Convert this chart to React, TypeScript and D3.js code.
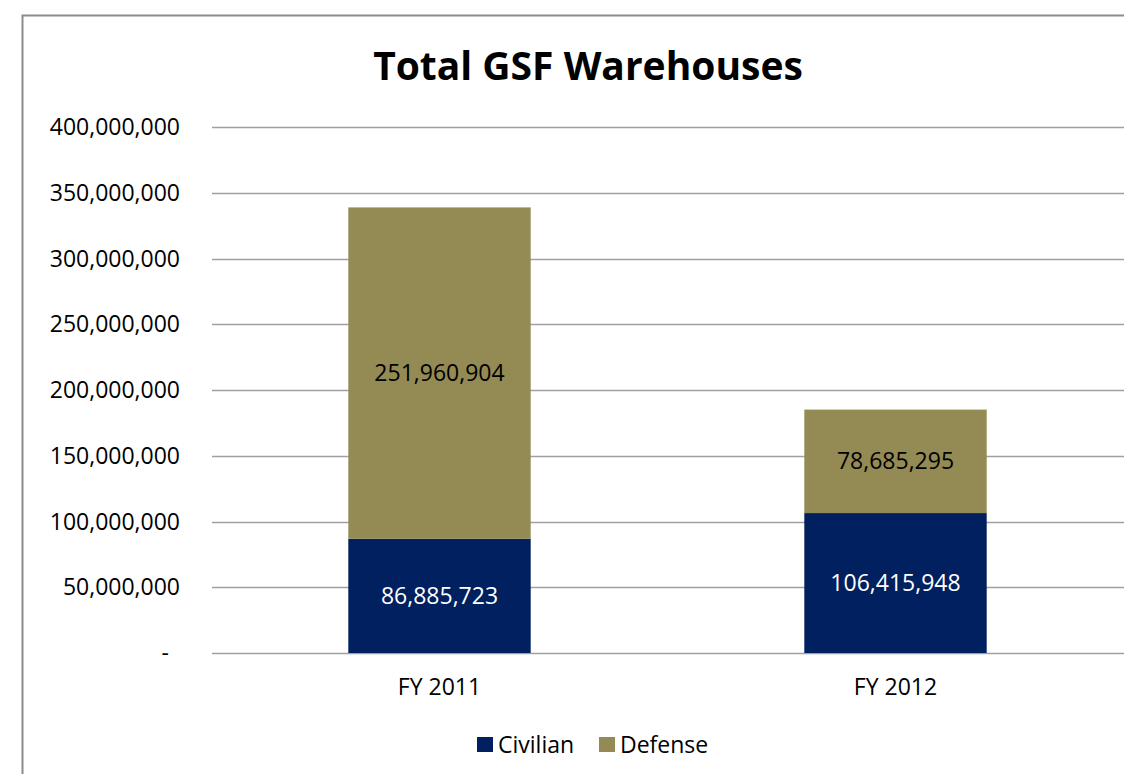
import React from "react";
import * as d3 from "d3";

const categories = ["FY 2011", "FY 2012"];
const civilian = [86885723, 106415948];
const defense = [251960904, 78685295];
const yTicks = [0, 50000000, 100000000, 150000000, 200000000, 250000000, 300000000, 350000000, 400000000];
const seriesNames = ["Civilian", "Defense"];
const seriesColors = ["#002060", "#948A54"];

const W = 1124;
const H = 774;
const FONT = "'Open Sans', 'Liberation Sans', sans-serif";

export default function App() {
  const x = d3.scaleBand<string>().domain(categories).range([211.5, 1123.5]).paddingInner(0.6).paddingOuter(0.3);
  const y = d3.scaleLinear().domain([0, 400000000]).range([653, 127]);
  const fmt = d3.format(",");
  const stackData = categories.map((c, i) => ({ cat: c, Civilian: civilian[i], Defense: defense[i] }));
  const stack = d3.stack<any>().keys(seriesNames)(stackData);

  return (
    <svg width={W} height={H} style={{ position: "absolute", left: 0, top: 0, background: "#fff" }} fontFamily={FONT}>
      <rect x={22.5} y={15.5} width={1200} height={800} fill="#fff" stroke="#8c8c8c" strokeWidth={2} />
      <text x={588} y={80} textAnchor="middle" fontSize={39} fontWeight="bold" fill="#000">Total GSF Warehouses</text>
      {yTicks.map((t) => (
        <g key={t}>
          <line x1={212} x2={1124} y1={Math.round(y(t)) + 0.5} y2={Math.round(y(t)) + 0.5} stroke="#a0a0a0" strokeWidth={1.5} />
          <text x={t === 0 ? 169 : 180} y={y(t)} dy="0.35em" textAnchor="end" fontSize={23} fill="#000">
            {t === 0 ? "-" : fmt(t)}
          </text>
        </g>
      ))}
      {stack.map((s, si) => (
        <g key={seriesNames[si]}>
          {s.map((d, i) => (
            <g key={i}>
              <rect x={x(categories[i])} width={x.bandwidth()} y={y(d[1])} height={y(d[0]) - y(d[1])} fill={seriesColors[si]} />
              <text x={(x(categories[i]) as number) + x.bandwidth() / 2} y={(y(d[0]) + y(d[1])) / 2} dy="0.35em" textAnchor="middle" fontSize={23} fill={si === 0 ? "#fff" : "#000"}>
                {fmt(d[1] - d[0])}
              </text>
            </g>
          ))}
        </g>
      ))}
      {categories.map((c) => (
        <text key={c} x={(x(c) as number) + x.bandwidth() / 2} y={695} textAnchor="middle" fontSize={23} fill="#000">{c}</text>
      ))}
      {seriesNames.map((n, i) => {
        const lx = [477, 599][i];
        return (
          <g key={n}>
            <rect x={lx} y={737} width={16} height={15} fill={seriesColors[i]} />
            <text x={lx + 21} y={745} dy="0.35em" fontSize={23} fill="#000">{n}</text>
          </g>
        );
      })}
    </svg>
  );
}
